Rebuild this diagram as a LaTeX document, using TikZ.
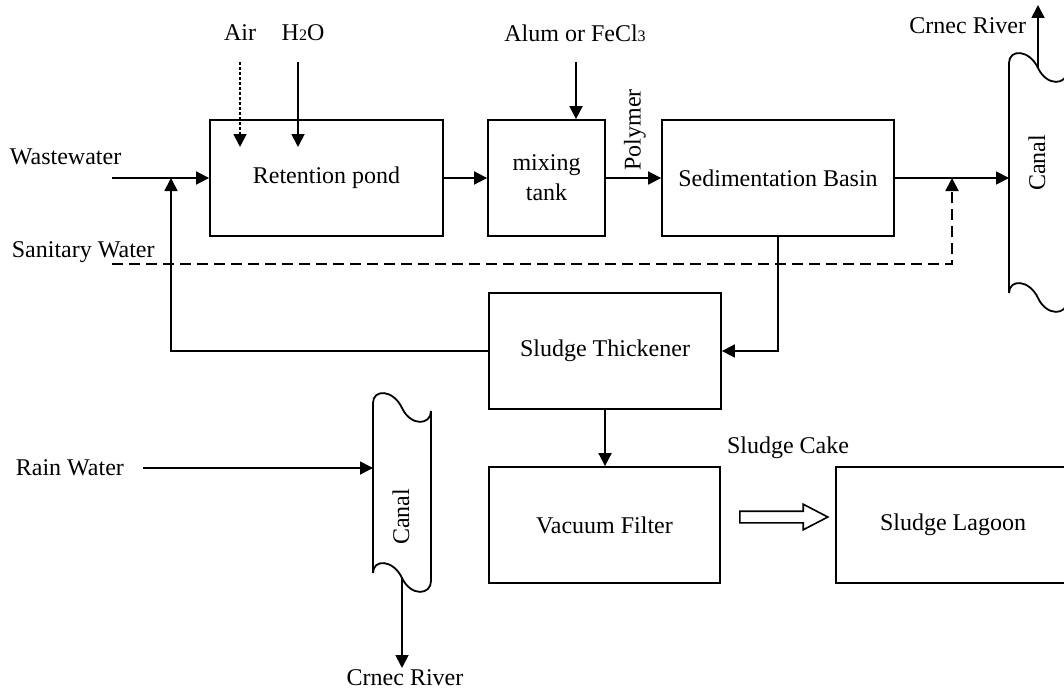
\documentclass[tikz,border=0pt]{standalone}
\usepackage{fontspec}
\setmainfont{Liberation Serif}
\usetikzlibrary{arrows.meta,shapes.arrows}
\newcommand\mycanal[3]{%
  \draw (#1,#3) -- (#1,#2)
    .. controls (#1,#2-14) and (#1+20,#2-14) .. (#1+29,#2+5)
    .. controls (#1+38,#2+24) and (#1+58,#2+22) .. (#1+58,#2+8)
    -- (#1+58,#3+8)
    .. controls (#1+58,#3+22) and (#1+38,#3+24) .. (#1+29,#3+5)
    .. controls (#1+20,#3-14) and (#1,#3-14) .. (#1,#3) -- cycle;}
\begin{document}
\begin{tikzpicture}[x=0.5pt,y=-0.5pt, line width=0.9pt,
  every node/.style={font=\fontsize{12}{15}\selectfont, inner sep=0pt},
  box/.style={draw, minimum width=#1, minimum height=58pt, align=center},
  arr/.style={-{Triangle[length=6.5pt,width=6.5pt]}},
  dashline/.style={dash pattern=on 5.5pt off 3pt},
  fine/.style={dash pattern=on 1.5pt off 1pt},
  body/.style={minimum width=29pt, minimum height=#1, inner sep=0pt, outer sep=0pt}]
\useasboundingbox (0,0) rectangle (1064,690);
\clip (0,0) rectangle (1064,690);
\fill[white] (0,0) rectangle (1064,690);

% boxes
\node[box=116.5pt] (ret) at (326.5,178) {Retention pond};
\node[box=58.5pt] (mix) at (546.5,178) {mixing\\tank};
\node[box=116pt] (sed) at (778,178) {Sedimentation Basin};
\node[box=116pt] (thick) at (605,351) {Sludge Thickener};
\node[box=115.5pt] (vac) at (604.5,525) {Vacuum Filter};
\node[box=117pt] (lag) at (953,525) {Sludge Lagoon};

% canals
\node[body=115pt] (canalR) at (1038,178) {};
\node[body=85pt] (canalL) at (402,488) {};
\mycanal{1009}{63}{293}
\mycanal{373}{403}{573}
\node[rotate=90] (canalRt) at (1037,163) {Canal};
\node[rotate=90] (canalLt) at (401,517) {Canal};

% labels
\node (air) at (240,33) {Air};
\node (h2o) at (303,33) {H{\fontsize{8}{8}\selectfont 2}O};
\node (alum) at (575,33) {Alum or FeCl{\fontsize{8}{8}\selectfont 3}};
\node[rotate=90] (poly) at (635,130) {Polymer};
\node[anchor=west] (ww) at (9,157) {Wastewater};
\node[anchor=west] (sw) at (11,252) {Sanitary Water};
\node[anchor=west] (rain) at (15,468) {Rain Water};
\node[anchor=east] (riverR) at (1027,26) {Crnec River};
\node (riverL) at (405,678) {Crnec River};
\node (cake) at (788,448) {Sludge Cake};

% coordinates
\coordinate (wwS) at (112,178);
\coordinate (j1) at (171,178);
\coordinate (swS) at (112,264);
\coordinate (j2) at (952,178);
\coordinate (airS) at (240,62);
\coordinate (airE) at (240,147);
\coordinate (h2oS) at (298,62);
\coordinate (h2oE) at (298,147);
\coordinate (alumS) at (576,62);
\coordinate (rainS) at (143,468);
\coordinate (cRout) at (1038,68);
\coordinate (cRend) at (1038,5);
\coordinate (cLout) at (402,578);
\coordinate (cLend) at (402,668);

% connectors
\draw[arr] (wwS) -- (ret.west);
\draw[arr] (thick.west) -| (j1);
\draw[arr] (ret.east) -- (mix.west);
\draw[arr] (mix.east) -- (sed.west);
\draw[arr] (sed.east) -- (sed.east -| canalR.west);
\draw[arr, dashline] (swS) -| (j2);
\draw[arr] (sed.south) |- (thick.east);
\draw[arr] (thick.south) -- (thick.south |- vac.north);
\draw[arr, fine] (airS) -- (airE);
\draw[arr] (h2oS) -- (h2oE);
\draw[arr] (alumS) -- (alumS |- mix.north);
\draw[arr] (rainS) -- (rainS -| canalL.west);
\draw[arr] (cLout) -- (cLend);
\draw[arr] (cRout) -- (cRend);

% hollow arrow
\node[single arrow, draw, line width=0.8pt, minimum height=44pt, inner sep=2.5pt,
      single arrow head extend=3.5pt, single arrow tip angle=55,
      anchor=tail] (cakearrow) at (739,517) {};
\end{tikzpicture}
\end{document}
